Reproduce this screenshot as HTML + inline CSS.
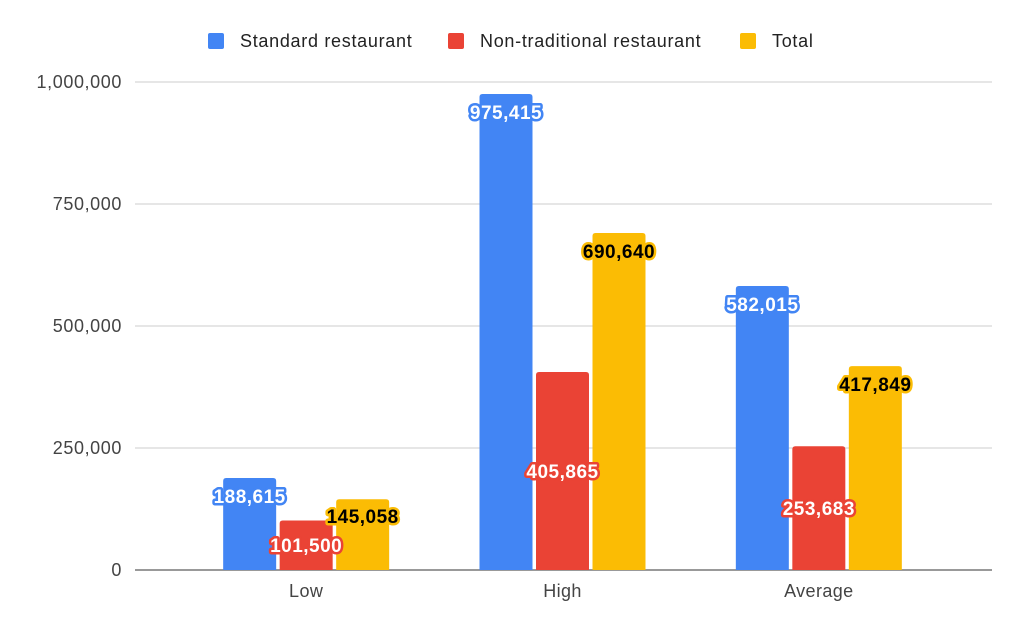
<!DOCTYPE html>
<html><head><meta charset="utf-8"><style>
body{margin:0;background:#fff;width:1024px;height:633px;overflow:hidden;font-family:"Liberation Sans",Arial,sans-serif}
</style></head><body>
<svg id="chart" width="1024" height="633" xmlns="http://www.w3.org/2000/svg" font-family="Liberation Sans, Arial, sans-serif"></svg>
<script>
const categories = ["Low","High","Average"];
const seriesNames = ["Standard restaurant","Non-traditional restaurant","Total"];
const standardValues = [188615,975415,582015];
const nonTraditionalValues = [101500,405865,253683];
const totalValues = [145058,690640,417849];
const yTicks = [0,250000,500000,750000,1000000];
const colors = ["#4285f4","#ea4335","#fbbc04"];
const series = [standardValues,nonTraditionalValues,totalValues];
const svg = document.getElementById('chart');
const NS = "http://www.w3.org/2000/svg";
const plotL=135, plotR=992, y0=570, y1=82, yMax=1000000;
const catL=178, catR=947;
const yScale = v => y0 - (v/yMax)*(y0-y1);
const groupW = (catR-catL)/categories.length;
const barW = 53, gap = 3.5;
const xCenter = i => catL + groupW*(i+0.5);
function mk(tag, attrs){const e=document.createElementNS(NS,tag);for(const k in attrs)e.setAttribute(k,attrs[k]);svg.appendChild(e);return e;}
const fmt = v => v.toLocaleString('en-US');
yTicks.forEach(t=>{
  const y=yScale(t);
  const g=mk('line',{x1:plotL,x2:plotR,y1:y,y2:y,stroke:t===0?'#333':'#ccc','stroke-width':1});
  
  
  const tx=mk('text',{x:122,y:y+6,'text-anchor':'end','font-size':18,'letter-spacing':0.6,fill:'#444'});
  tx.textContent=fmt(t);
  
  
});
const labels=[];
categories.forEach((c,i)=>{
  const cx=xCenter(i);
  series.forEach((s,j)=>{
    const x=cx-1.5*barW-gap+j*(barW+gap);
    const top=yScale(s[i]);
    const h=y0-top;
    const r=mk('path',{d:`M${x},${y0}V${top+3}Q${x},${top} ${x+3},${top}H${x+barW-3}Q${x+barW},${top} ${x+barW},${top+3}V${y0}Z`,fill:colors[j]});
    
    
    let ly = (j===1 || h<80) ? top+h/2+7 : top+25;
    if (j===2 && h<80) ly = top+24;
    labels.push({x:x+barW/2,y:ly,j,v:s[i]});
  });
  const xl=mk('text',{x:cx,y:597,'text-anchor':'middle','font-size':18,'letter-spacing':0.4,fill:'#444'});
  xl.textContent=c;
  
  
});
labels.forEach(l=>{
  const t=mk('text',{x:l.x,y:l.y,'text-anchor':'middle','font-size':19,'font-weight':'bold','letter-spacing':0.5,fill:l.j===2?'#000':'#fff',stroke:colors[l.j],'stroke-width':5,'stroke-linejoin':'round','paint-order':'stroke'});
  t.textContent=fmt(l.v);
  
  
});
const legX=[208,448,740];
seriesNames.forEach((n,j)=>{
  const r=mk('rect',{x:legX[j],y:33,width:16,height:16,rx:2,fill:colors[j]});
  
  
  const t=mk('text',{x:legX[j]+32,y:47,'font-size':18,'letter-spacing':0.7,fill:'#222'});
  t.textContent=n;
  
  
});
</script>
</body></html>
